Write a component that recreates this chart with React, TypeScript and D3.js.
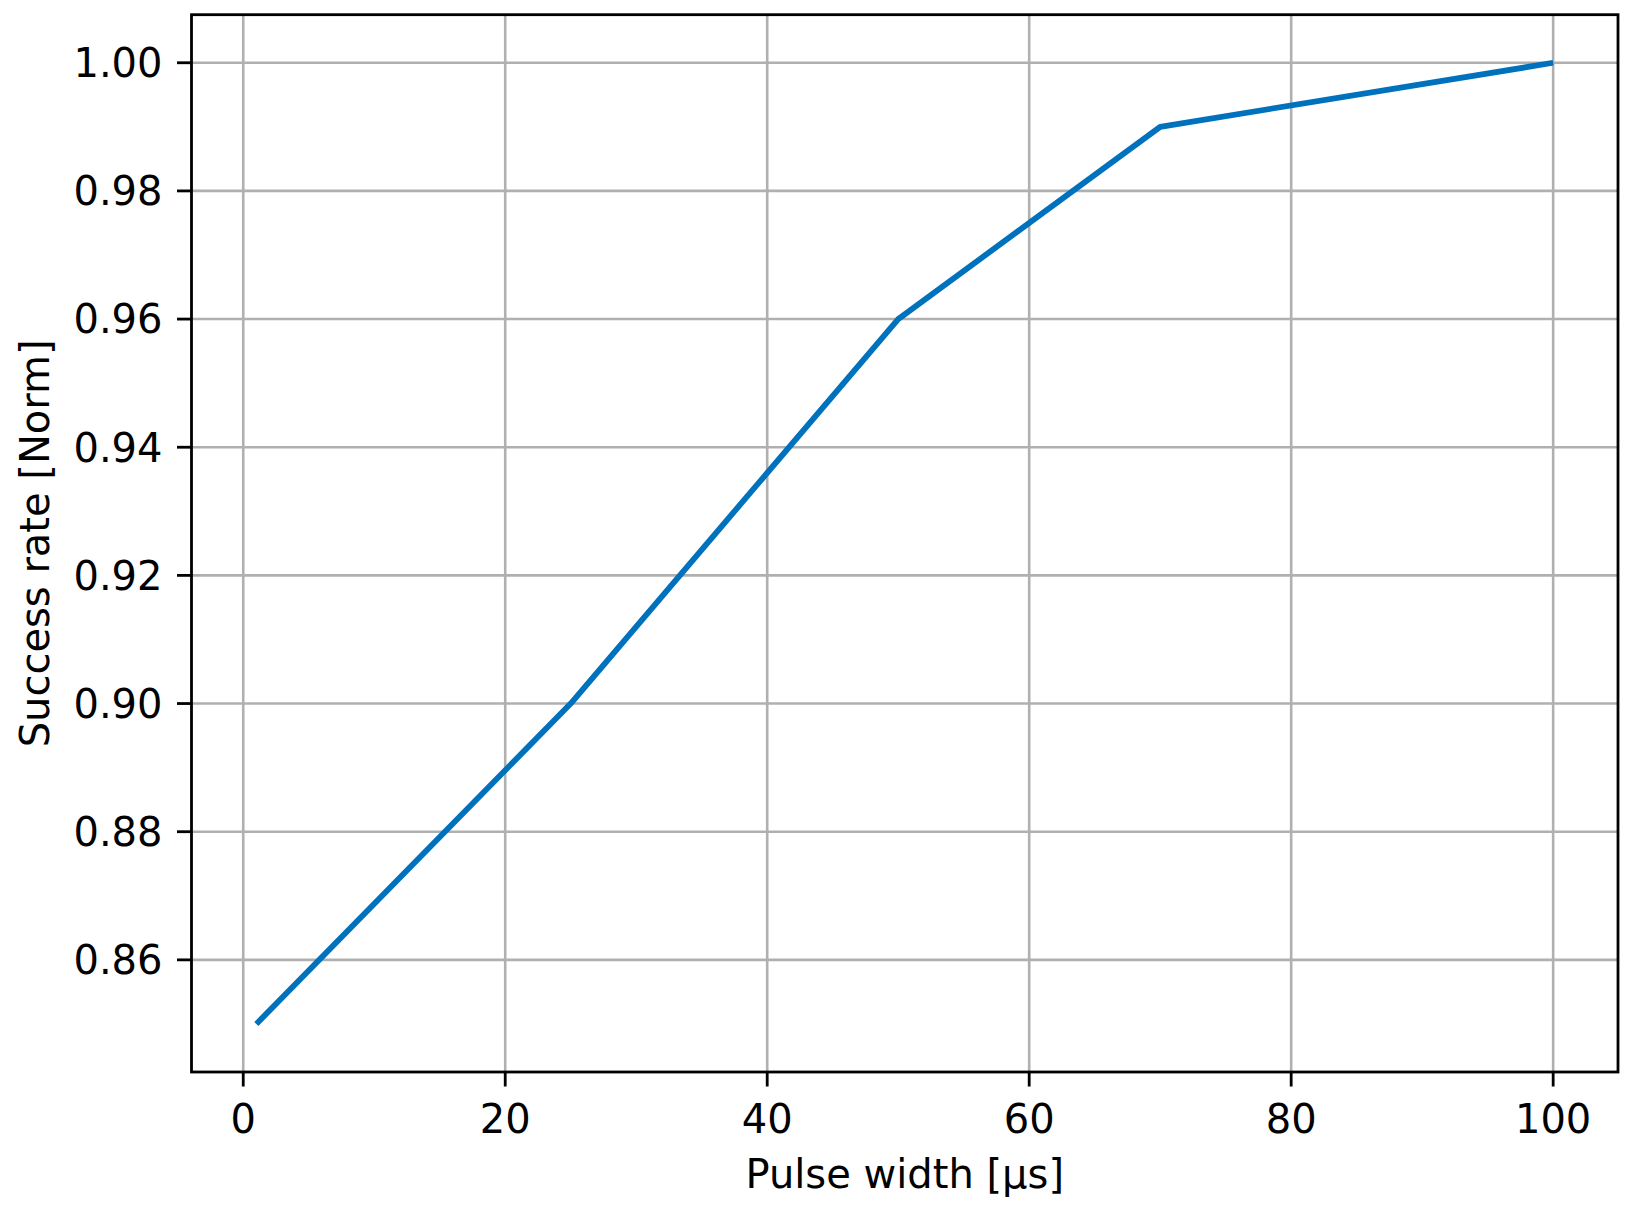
import React from "react";
import * as d3 from "d3";

const pulseWidth = [1, 25, 50, 70, 100];
const successRate = [0.85, 0.9, 0.96, 0.99, 1.0];
const xTicks = [0, 20, 40, 60, 80, 100];
const yTicks = [0.86, 0.88, 0.9, 0.92, 0.94, 0.96, 0.98, 1.0];
const xLabel = "Pulse width [μs]";
const yLabel = "Success rate [Norm]";

const W = 1638;
const H = 1210;
const left = 191.5;
const right = 1618;
const top = 14.7;
const bottom = 1072;
const font = "'DejaVu Sans', sans-serif";
const fs = 40;

export default function App() {
  const x = d3.scaleLinear().domain([-3.95, 104.95]).range([left, right]);
  const y = d3.scaleLinear().domain([0.8425, 1.0075]).range([bottom, top]);
  const line = d3
    .line<number>()
    .x((_, i) => x(pulseWidth[i]))
    .y((d) => y(d));
  return (
    <svg
      width={W}
      height={H}
      style={{ position: "absolute", left: 0, top: 0, background: "#fff" }}
    >
      <rect x={0} y={0} width={W} height={H} fill="#fff" />
      {xTicks.map((t) => (
        <line key={"gx" + t} x1={x(t)} x2={x(t)} y1={top} y2={bottom} stroke="#b0b0b0" strokeWidth={2.6} />
      ))}
      {yTicks.map((t) => (
        <line key={"gy" + t} x1={left} x2={right} y1={y(t)} y2={y(t)} stroke="#b0b0b0" strokeWidth={2.6} />
      ))}
      <path
        d={line(successRate) || ""}
        fill="none"
        stroke="#0072BD"
        strokeWidth={5.8}
        strokeLinejoin="round"
        strokeLinecap="butt"
      />
      <rect x={left} y={top} width={right - left} height={bottom - top} fill="none" stroke="#000" strokeWidth={2.8} />
      {xTicks.map((t) => (
        <g key={"tx" + t}>
          <line x1={x(t)} x2={x(t)} y1={bottom} y2={bottom + 14.5} stroke="#000" strokeWidth={2.8} />
          <text x={x(t)} y={bottom + 61} textAnchor="middle" fontFamily={font} fontSize={fs} fill="#000">
            {t}
          </text>
        </g>
      ))}
      {yTicks.map((t) => (
        <g key={"ty" + t}>
          <line x1={left - 14.5} x2={left} y1={y(t)} y2={y(t)} stroke="#000" strokeWidth={2.8} />
          <text x={left - 29} y={y(t)} dy="0.36em" textAnchor="end" fontFamily={font} fontSize={fs} fill="#000">
            {t.toFixed(2)}
          </text>
        </g>
      ))}
      <text x={(left + right) / 2} y={1188} textAnchor="middle" fontFamily={font} fontSize={fs} fill="#000">
        {xLabel}
      </text>
      <text
        transform={`translate(49, ${(top + bottom) / 2}) rotate(-90)`}
        textAnchor="middle"
        fontFamily={font}
        fontSize={fs}
        fill="#000"
      >
        {yLabel}
      </text>
    </svg>
  );
}
